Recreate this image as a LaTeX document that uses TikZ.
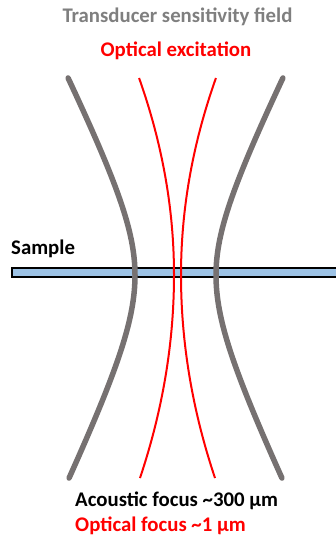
\documentclass[tikz,border=0pt]{standalone}
\usepackage{fontspec}
\setmainfont{Carlito}
\definecolor{beamgray}{HTML}{767171}
\definecolor{txtgray}{HTML}{7F7F7F}
\definecolor{samplefill}{HTML}{9DC3E6}
\definecolor{optred}{HTML}{FF0000}
\begin{document}
\begin{tikzpicture}[x=1pt,y=-1pt,
  lbl/.style={inner sep=0pt, font=\fontsize{20.8}{23}\selectfont\bfseries},
  graybeam/.style={draw=beamgray, line width=5.5pt, line cap=round},
  redbeam/.style={draw=optred, line width=2pt},
  samplebar/.style={draw=black, line width=1.2pt, fill=samplefill}]
\useasboundingbox (0,0) rectangle (335,537);
% sample
\path[samplebar] (12,268) rectangle (338,277);
% transducer field (hyperbolic)
\draw[graybeam] plot[domain=78:478, samples=80, smooth] ({175.5 - 10*sqrt(16.4 + (0.235+0.02*(\x<275))*((\x-275)/10)^2)}, \x);
\draw[graybeam] plot[domain=78:478, samples=80, smooth] ({175.5 + 10*sqrt(16.4 + (0.235+0.02*(\x<275))*((\x-275)/10)^2)}, \x);
% optical excitation (parabolic)
\draw[redbeam] plot[domain=78:478, samples=80, smooth] ({177.5 - 3.5 - (0.0825+0.0075*(\x<275))*((\x-275)/10)^2}, \x);
\draw[redbeam] plot[domain=78:478, samples=80, smooth] ({177.5 + 3.5 + (0.0825+0.0075*(\x<275))*((\x-275)/10)^2}, \x);
% labels
\node[lbl, text=txtgray, anchor=base] (tsf) at (177.5,22.7) {Transducer sensitivity field};
\node[lbl, text=optred, anchor=base] (oex) at (176,56.7) {Optical excitation};
\node[lbl, text=black, anchor=base west] (smp) at (11,254) {Sample};
\node[lbl, text=black, anchor=base west] (acf) at (75,506.7) {Acoustic focus \textasciitilde300 µm};
\node[lbl, text=optred, anchor=base west] (opf) at (75,531.7) {Optical focus \textasciitilde1 µm};
\end{tikzpicture}
\end{document}
